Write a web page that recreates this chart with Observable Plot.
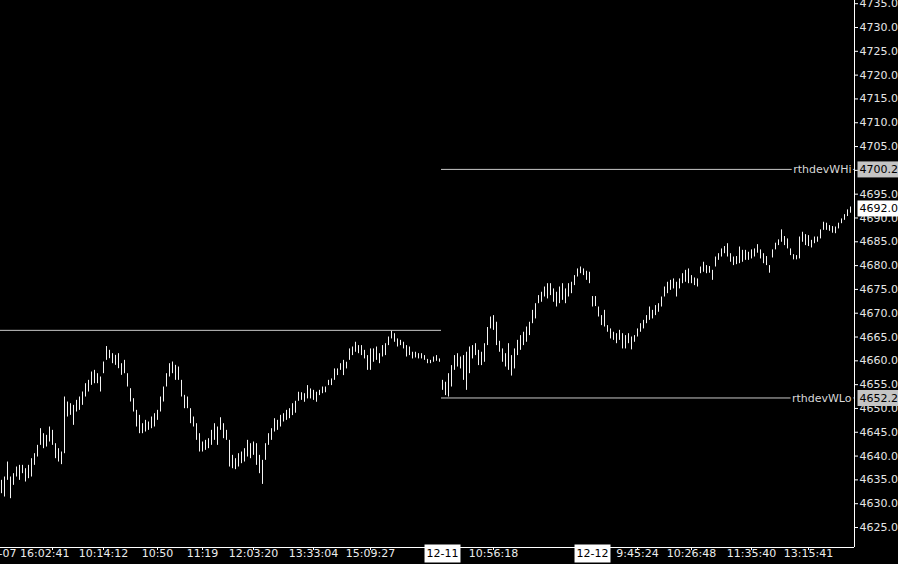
<!DOCTYPE html>
<html><head><meta charset="utf-8">
<script src="https://cdn.jsdelivr.net/npm/d3@7"></script>
<script src="https://cdn.jsdelivr.net/npm/@observablehq/plot@0.6"></script>
<style>
html,body{margin:0;padding:0;background:#000;overflow:hidden;}
#chart svg{display:block;}
#chart svg text{paint-order:stroke;}
</style></head><body><div id="chart"></div>
<script>
// Bar highs / lows, one per bar (bar index = position in array)
const highs = [
4634.9,4635.6,4638.75,4635.6,4636.3,4637.7,4638.05,4638.05,4637.35,4638.05,
4639.45,4640.5,4642.25,4645.75,4644.7,4644.35,4646.1,4645.4,4642.6,4641.55,
4640.85,4652.4,4651.35,4651.0,4650.65,4651.7,4652.4,4653.45,4655.2,4655.9,
4657.65,4658.0,4657.3,4656.6,4659.75,4663.0,4662.2,4661.5,4661.15,4661.5,
4659.4,4660.1,4657.3,4654.15,4652.05,4649.6,4648.55,4646.8,4647.5,4647.15,
4648.2,4648.9,4649.6,4652.4,4654.5,4657.3,4659.4,4659.75,4659.05,4658.7,
4655.9,4652.75,4652.4,4649.95,4648.2,4646.8,4644.7,4642.95,4643.3,4643.65,
4645.4,4646.8,4646.1,4648.05,4646.8,4645.4,4643.3,4640.15,4639.45,4640.5,
4640.85,4641.55,4643.3,4642.6,4642.95,4642.6,4640.15,4639.1,4642.6,4644.7,
4645.75,4647.85,4647.5,4648.55,4648.9,4649.6,4649.95,
4651.0,4651.5,4653.4,4653.3,4653.1,4654.8,4654.1,4653.8,4653.4,4653.8,
4654.5,4654.5,4655.9,4656.2,4658.3,4658.3,4659.4,4660.1,4659.7,4662.5,
4662.9,4663.9,4663.2,4663.2,4662.2,4661.1,4662.5,4662.5,4662.9,4661.5,
4663.2,4663.6,4665.0,4666.2,4665.7,4664.6,4664.3,4663.9,4663.2,4662.9,
4661.8,4661.8,4661.5,4661.5,4661.1,4660.3,4660.1,4660.8,4661.1,4660.4,
4655.9,4655.5,4657.3,4659.0,4661.1,4661.5,4660.8,4661.1,4661.8,4662.9,
4663.2,4663.6,4662.2,4661.8,4663.6,4667.0,4669.2,4669.5,4668.1,4664.1,
4662.5,4661.5,4663.6,4661.1,4662.5,4664.3,4665.3,4666.0,4667.1,4668.1,
4670.6,4672.0,4673.7,4674.4,4675.5,4676.2,4676.2,4675.1,4674.4,4675.5,
4676.2,4675.1,4676.2,4676.5,4677.9,4679.3,4679.7,4679.3,
4678.8,4678.6,4673.5,4673.5,4671.3,4669.5,4670.6,4667.4,4666.7,4666.0,
4665.7,4666.4,4665.7,4665.3,4665.7,4665.0,4665.3,4666.7,4667.8,4668.5,
4669.5,4671.3,4670.6,4671.6,4672.0,4673.4,4675.5,4676.5,4676.9,4677.2,
4676.5,4677.2,4678.3,4679.0,4679.3,4677.9,4677.4,4677.2,4679.7,4680.7,
4680.0,4679.8,4679.0,4681.8,4682.5,4683.5,4684.0,4684.6,4682.5,4681.8,
4681.9,4683.9,4683.2,4683.2,4682.8,4683.3,4683.5,4684.4,4683.3,4682.5,
4681.9,4680.0,4683.3,4684.7,4685.4,4687.5,4686.1,4685.6,4683.5,4682.3,
4682.1,4686.0,4687.0,4686.5,4686.3,4685.3,4686.0,4686.0,4687.5,4689.1,
4688.9,4688.4,4688.2,4688.1,4688.9,4689.8,4690.7,4691.7,4692.3
];
const lows = [
4632.1,4631.4,4634.9,4631.05,4633.85,4635.6,4634.9,4636.3,4634.55,4635.25,
4635.6,4638.05,4639.8,4642.25,4641.55,4641.9,4642.95,4642.25,4639.45,4638.75,
4638.2,4640.5,4648.2,4648.55,4646.45,4649.25,4649.6,4650.65,4652.4,4653.45,
4654.85,4655.2,4655.2,4653.45,4657.3,4660.1,4660.45,4659.4,4659.05,4658.35,
4656.95,4657.3,4654.5,4651.35,4649.25,4646.1,4644.7,4644.7,4645.05,4645.4,
4645.75,4646.1,4647.5,4649.25,4651.35,4654.5,4656.6,4657.3,4655.9,4655.9,
4652.4,4649.95,4649.95,4646.8,4646.1,4643.3,4640.85,4640.85,4641.2,4641.55,
4642.25,4643.3,4642.25,4645.4,4643.65,4643.3,4637.7,4637.35,4637.15,4637.7,
4638.4,4638.75,4639.8,4639.45,4640.15,4638.05,4636.3,4634.05,4639.1,4642.25,
4643.3,4645.05,4645.4,4646.1,4647.15,4647.5,4647.85,
4648.5,4649.0,4651.5,4651.7,4651.3,4652.0,4652.0,4651.7,4651.3,4652.7,
4653.1,4653.3,4654.8,4654.8,4655.9,4656.9,4658.0,4656.9,4658.3,4660.1,
4661.1,4661.8,4661.5,4661.1,4660.4,4658.0,4658.0,4659.7,4660.1,4659.4,
4660.8,4661.1,4663.2,4664.6,4663.9,4662.9,4663.2,4662.5,4660.8,4661.1,
4660.4,4660.6,4660.4,4660.4,4660.1,4659.4,4659.4,4659.7,4659.9,4659.7,
4653.8,4652.7,4652.4,4654.5,4658.0,4658.7,4658.3,4655.9,4653.8,4657.3,
4660.4,4661.1,4659.0,4659.0,4659.7,4663.2,4666.7,4666.4,4663.2,4661.8,
4659.7,4658.7,4658.0,4656.8,4658.3,4661.1,4662.2,4663.2,4663.9,4665.3,
4667.8,4668.8,4672.0,4672.3,4673.4,4673.0,4673.7,4672.3,4671.3,4672.0,
4672.7,4672.0,4673.4,4674.1,4675.8,4677.6,4678.3,4677.9,
4676.9,4676.2,4671.3,4671.4,4669.2,4667.4,4667.1,4666.0,4664.6,4664.3,
4663.6,4664.3,4662.5,4662.5,4663.6,4662.3,4663.9,4665.0,4666.0,4666.7,
4667.8,4668.5,4668.8,4669.5,4670.2,4671.3,4673.4,4674.1,4674.8,4675.1,
4673.4,4675.1,4676.2,4676.5,4676.2,4676.2,4675.8,4675.5,4678.3,4678.6,
4678.3,4678.4,4676.9,4679.7,4681.1,4681.8,4682.5,4681.8,4680.7,4680.0,
4680.2,4680.4,4680.7,4681.1,4681.1,4681.4,4681.8,4682.6,4681.4,4680.4,
4680.0,4678.4,4681.6,4683.3,4684.2,4684.9,4684.2,4683.5,4682.1,4681.2,
4681.2,4681.4,4684.9,4684.2,4684.0,4683.7,4684.6,4684.9,4685.6,4687.4,
4687.4,4687.2,4686.8,4686.7,4687.7,4688.8,4689.5,4690.3,4691.0
];

// Price axis ticks
const yTicks = [4625,4630,4635,4640,4645,4650,4655,4660,4665,4670,4675,4680,4685,4690,4695,4700,4705,4710,4715,4720,4725,4730,4735];

// Time axis: bar index of each labelled tick, and its label
const xTickIndex  = [17, 34, 52, 67, 84, 104, 123, 147, 164, 197, 212, 230, 250, 269];
const xTickLabels = ["12-07 16:02:41","10:14:12","10:50","11:19","12:03:20","13:33:04","15:09:27","12-11","10:56:18","12-12","9:45:24","10:26:48","11:35:40","13:15:41"];
const dateLabels  = ["12-11","12-12"];

// Reference levels
const levelNames  = ["", "rthdevWHi", "rthdevWLo"];
const levelValues = [4666.4, 4700.2, 4652.2];
const levelStartBar = [null, 146.67, 146.67];
const levelEndBar   = [146.67, null, null];

// Highlighted price-axis labels
const markerValues = [4700.2, 4692.0, 4652.2];
const markerFills  = ["#c4c4c4", "#ffffff", "#c4c4c4"];

// bar-index extent of the plot (one bar every 3px)
const xMin = -1/3, xMax = highs.length + 1/3;
const yMin = 4620.8, yMax = 4735.67;

const bars = highs.map((h, i) => ({i, high: h, low: lows[i]}));
const levels = levelValues.map((v, k) => ({
  name: levelNames[k], value: v,
  x1: levelStartBar[k] == null ? xMin : levelStartBar[k],
  x2: levelEndBar[k] == null ? xMax : levelEndBar[k]
}));
const ticks = xTickIndex.map((i, k) => ({i, label: xTickLabels[k]}));
const markers = markerValues.map((v, k) => ({value: v, fill: markerFills[k]}));

const chart = Plot.plot({
  width: 898, height: 564,
  marginLeft: 0, marginRight: 44, marginTop: 0, marginBottom: 17,
  style: {background: "#000", color: "#e6e6e6", fontFamily: "DejaVu Sans", fontSize: "11px"},
  x: {domain: [xMin, xMax], label: null},
  y: {domain: [yMin, yMax], label: null},
  marks: [
    Plot.ruleY(levels, {x1: "x1", x2: "x2", y: "value", stroke: "#c8c8c8"}),
    Plot.ruleX(bars, {x: "i", y1: "low", y2: "high", stroke: "#f4f4f4"}),
    Plot.text(levels.filter(d => d.name), {x: xMax, y: "value", text: "name", textAnchor: "end", dx: -3,
      fill: "#d8d8d8", stroke: "#000", strokeWidth: 5}),
    Plot.ruleX([xMax], {stroke: "#fff"}),
    Plot.ruleY([yMin], {stroke: "#fff"}),
    Plot.axisY({anchor: "right", ticks: yTicks, tickFormat: d => d.toFixed(1), tickSize: 3, tickPadding: 2,
      stroke: "#fff", fill: "#e6e6e6", label: null}),
    Plot.axisX({anchor: "bottom", ticks: xTickIndex, tickFormat: () => "", tickSize: 3, stroke: "#fff", label: null}),
    Plot.text(ticks.slice(1), {x: "i", frameAnchor: "bottom", dy: 9, text: "label", fill: "#ececec"}),
    Plot.text(ticks.slice(0, 1), {x: "i", frameAnchor: "bottom", dy: 9, dx: 17, textAnchor: "end", text: "label", fill: "#ececec"}),
    Plot.text(markers, {x: xMax, y: "value", text: d => d.value.toFixed(1), textAnchor: "start", dx: 5, fill: "#000"})
  ]
});
document.getElementById("chart").append(chart);

// Background boxes behind highlighted labels
const markerFill = new Map(markers.map(d => [d.value.toFixed(1), d.fill]));
d3.select(chart).selectAll("text").each(function() {
  const t = this.textContent;
  let fill = null, padL = 2, padR = 2, padT = 1.5, padB = 1.5;
  if (markerFill.has(t) && this.getAttribute("fill") !== "#e6e6e6" && this.parentNode.getAttribute("fill") !== "#e6e6e6") {
    fill = markerFill.get(t); padR = 6;
  } else if (dateLabels.includes(t)) {
    fill = "#ffffff"; padT = 2; padB = 3;
  }
  if (!fill) return;
  const b = this.getBBox();
  const r = document.createElementNS("http://www.w3.org/2000/svg", "rect");
  r.setAttribute("x", b.x - padL);
  r.setAttribute("y", b.y - padT);
  r.setAttribute("width", b.width + padL + padR);
  r.setAttribute("height", b.height + padT + padB);
  r.setAttribute("fill", fill);
  r.setAttribute("stroke", "none");
  if (this.getAttribute("transform")) r.setAttribute("transform", this.getAttribute("transform"));
  this.parentNode.insertBefore(r, this);
  if (dateLabels.includes(t)) this.setAttribute("fill", "#000");
});
</script></body></html>
